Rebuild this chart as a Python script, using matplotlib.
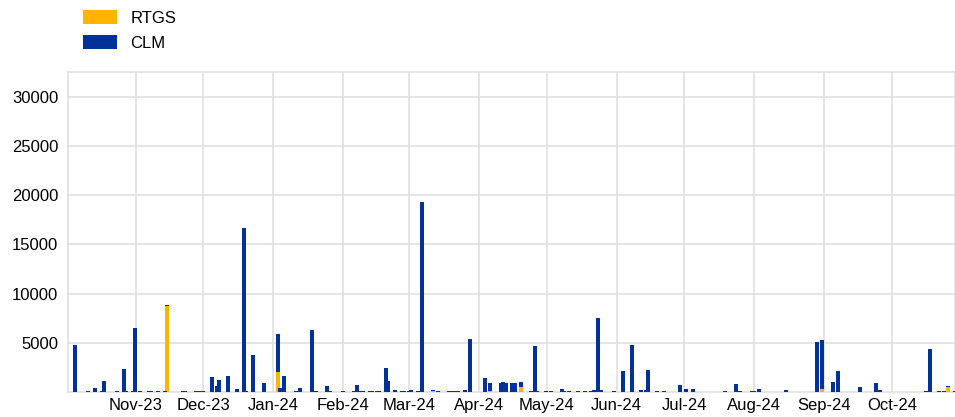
import matplotlib
matplotlib.use('Agg')
import matplotlib.pyplot as plt
import matplotlib.dates as mdates
import pandas as pd

plt.rcParams['font.family'] = ['Liberation Sans', 'DejaVu Sans']

# Daily values (CLM on top of RTGS)
dates = [
    '2023-10-04', '2023-10-10', '2023-10-13', '2023-10-16', '2023-10-17', '2023-10-23',
    '2023-10-26', '2023-10-27', '2023-10-30', '2023-10-31', '2023-11-02', '2023-11-06',
    '2023-11-07', '2023-11-10', '2023-11-13', '2023-11-14', '2023-11-21', '2023-11-22',
    '2023-11-27', '2023-11-28', '2023-11-30', '2023-12-04', '2023-12-06', '2023-12-07',
    '2023-12-11', '2023-12-15', '2023-12-18', '2023-12-19', '2023-12-22', '2023-12-27',
    '2024-01-02', '2024-01-03', '2024-01-05', '2024-01-10', '2024-01-12', '2024-01-17',
    '2024-01-19', '2024-01-24', '2024-01-25', '2024-01-31', '2024-02-05', '2024-02-06',
    '2024-02-08', '2024-02-09', '2024-02-12', '2024-02-13', '2024-02-15', '2024-02-16',
    '2024-02-19', '2024-02-20', '2024-02-23', '2024-02-26', '2024-02-27', '2024-02-29',
    '2024-03-01', '2024-03-04', '2024-03-06', '2024-03-11', '2024-03-13', '2024-03-18',
    '2024-03-19', '2024-03-20', '2024-03-21', '2024-03-22', '2024-03-25', '2024-03-27',
    '2024-04-03', '2024-04-05', '2024-04-10', '2024-04-11', '2024-04-12', '2024-04-15',
    '2024-04-16', '2024-04-19', '2024-04-23', '2024-04-25', '2024-04-26', '2024-04-30',
    '2024-05-02', '2024-05-07', '2024-05-08', '2024-05-10', '2024-05-14', '2024-05-17',
    '2024-05-20', '2024-05-21', '2024-05-23', '2024-05-24', '2024-05-30', '2024-06-03',
    '2024-06-07', '2024-06-11', '2024-06-13', '2024-06-14', '2024-06-18', '2024-06-21',
    '2024-06-28', '2024-07-01', '2024-07-04', '2024-07-18', '2024-07-23', '2024-07-25',
    '2024-07-30', '2024-07-31', '2024-08-02', '2024-08-14', '2024-08-28', '2024-08-30',
    '2024-09-04', '2024-09-06', '2024-09-16', '2024-09-23', '2024-09-25', '2024-10-15',
    '2024-10-17', '2024-10-21', '2024-10-23', '2024-10-25', '2024-10-28',
]
clm = [
    4780, 100, 400, 100, 1150, 100,
    2340, 100, 100, 6500, 100, 100,
    100, 100, 100, 150, 100, 100,
    100, 150, 100, 1520, 600, 1220,
    1630, 300, 16700, 100, 3760, 930,
    3870, 400, 1630, 100, 400, 6300,
    100, 600, 150, 100, 100, 700,
    100, 100, 100, 100, 100, 100,
    2440, 1120, 200, 100, 100, 100,
    200, 100, 19300, 150, 100, 60,
    60, 60, 60, 60, 200, 5380,
    1420, 880, 920, 1020, 920, 920,
    920, 500, 100, 4670, 100, 100,
    100, 300, 100, 100, 100, 100,
    100, 200, 7520, 200, 100, 2130,
    4780, 200, 200, 2230, 100, 100,
    700, 300, 300, 100, 800, 100,
    100, 100, 300, 200, 5080, 4980,
    1020, 2130, 500, 920, 200, 100,
    4370, 100, 100, 100, 100,
]
rtgs = [
    0, 0, 0, 0, 0, 0,
    0, 0, 0, 0, 0, 0,
    0, 0, 0, 8700, 0, 0,
    0, 0, 0, 0, 0, 0,
    0, 0, 0, 0, 0, 0,
    2030, 0, 0, 0, 0, 0,
    0, 0, 0, 0, 0, 0,
    0, 0, 0, 0, 0, 0,
    0, 0, 0, 0, 0, 0,
    0, 0, 0, 60, 0, 0,
    0, 0, 0, 0, 0, 0,
    0, 60, 0, 0, 0, 0,
    0, 520, 0, 0, 0, 0,
    0, 0, 0, 0, 0, 0,
    0, 0, 0, 0, 0, 0,
    0, 0, 0, 0, 0, 0,
    0, 0, 0, 0, 0, 0,
    0, 0, 0, 0, 0, 300,
    0, 0, 0, 0, 0, 0,
    0, 0, 0, 510, 0,
]

x = pd.to_datetime(dates)

fig = plt.figure(figsize=(9.55, 4.17), dpi=100)
ax = fig.add_axes([68 / 955, 1 - 392 / 417, 887 / 955, 320 / 417])

bar_w = 1.77
ax.bar(x, rtgs, width=bar_w, align='edge', color='#FFB400', label='RTGS', zorder=3)
ax.bar(x, clm, width=bar_w, align='edge', bottom=rtgs, color='#003299', label='CLM', zorder=3)

ax.set_xlim(pd.Timestamp('2023-10-02'), pd.Timestamp('2024-10-28 22:00'))
ax.set_ylim(0, 32500)
ax.set_yticks([5000, 10000, 15000, 20000, 25000, 30000])

ax.xaxis.set_major_locator(mdates.MonthLocator())
ax.xaxis.set_major_formatter(mdates.DateFormatter('%b-%y'))

ax.grid(True, color='#dedede', linewidth=1.1, zorder=0)
for s in ax.spines.values():
    s.set_color('#dedede')
    s.set_linewidth(1.1)
ax.tick_params(length=0, labelsize=12, colors='black')
ax.tick_params(axis='y', pad=7)
ax.tick_params(axis='x', pad=4)

fig.legend(loc='upper left', bbox_to_anchor=(71 / 955, 1.004), frameon=False,
           fontsize=12, handlelength=2.05, handleheight=0.9,
           labelspacing=0.58, handletextpad=0.8, borderaxespad=0.3)

fig.savefig('out.png', dpi=100)
